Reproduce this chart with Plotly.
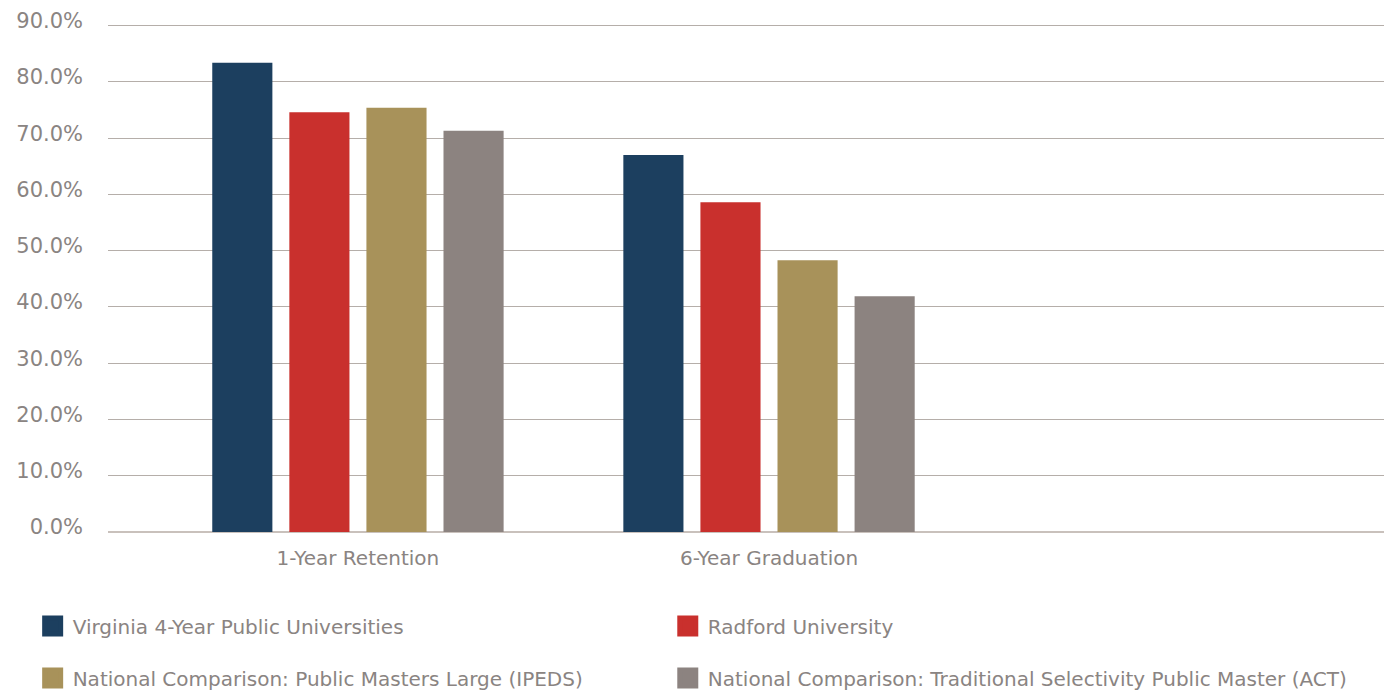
import plotly.graph_objects as go

categories = ["1-Year Retention", "6-Year Graduation"]
series_names = [
    "Virginia 4-Year Public Universities",
    "Radford University",
    "National Comparison: Public Masters Large (IPEDS)",
    "National Comparison: Traditional Selectivity Public Master (ACT)",
]
virginia = [83.4, 67.0]
radford = [74.6, 58.6]
ipeds = [75.4, 48.3]
act = [71.3, 41.9]
y_ticks = [0, 10, 20, 30, 40, 50, 60, 70, 80, 90]

series_values = [virginia, radford, ipeds, act]
colors = ["#1c3f5f", "#c9302d", "#a8925a", "#8c8380"]
legend_ids = ["legend", "legend2", "legend3", "legend4"]

FONT = "DejaVu Sans"
TEXT = "#8a8482"

fig = go.Figure()
for name, vals, col in zip(series_names, series_values, colors):
    fig.add_trace(go.Bar(x=categories, y=vals, name=name, marker_color=col,
                         marker_line_width=0, showlegend=False))
for name, col, lg in zip(series_names, colors, legend_ids):
    fig.add_trace(go.Scatter(x=[None], y=[None], mode="markers", name=name,
                             marker=dict(symbol="square", size=22, color=col,
                                         line=dict(color=col, width=5)),
                             legend=lg, showlegend=True))

leg_common = dict(orientation="h", xanchor="left", yanchor="middle",
                  xref="container", yref="container",
                  font=dict(size=20, color=TEXT),
                  bgcolor="rgba(0,0,0,0)", itemclick=False)
col_x = [0.0236, 0.4825]
row_y = [1 - 626 / 692, 1 - 678 / 692]

fig.update_layout(
    width=1384, height=692,
    margin=dict(l=108, r=0, t=20, b=160, autoexpand=False),
    paper_bgcolor="white", plot_bgcolor="white",
    barmode="group", bargap=0.25, bargroupgap=0.22,
    font=dict(family=FONT, color=TEXT, size=18),
    xaxis=dict(type="category", range=[-0.608, 2.496], showgrid=False,
               showline=False, zeroline=False, ticks="",
               tickfont=dict(size=20, color=TEXT), ticklabelstandoff=12),
    yaxis=dict(range=[0, 91], tickvals=y_ticks,
               ticktext=[f"{v:.1f}%" for v in y_ticks],
               showgrid=True, gridcolor="#b5aea9", gridwidth=1.2,
               zeroline=True, zerolinecolor="#c9c1bc", zerolinewidth=2,
               showline=False, ticks="", tickfont=dict(size=21, color=TEXT),
               ticklabelstandoff=24, ticklabelshift=-5),
    legend=dict(x=col_x[0], y=row_y[0], **leg_common),
    legend2=dict(x=col_x[1], y=row_y[0], **leg_common),
    legend3=dict(x=col_x[0], y=row_y[1], **leg_common),
    legend4=dict(x=col_x[1], y=row_y[1], **leg_common),
)

fig.write_html("out.html", config={"displayModeBar": False},
               post_script="document.body.style.margin='0';document.body.style.overflow='hidden';")
